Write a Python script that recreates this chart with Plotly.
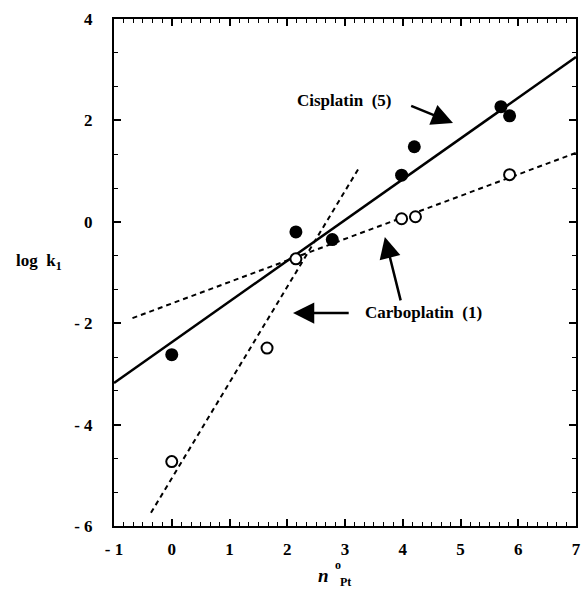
import plotly.graph_objects as go

# Data
cis_x = [0.0, 2.15, 2.78, 3.98, 4.2, 5.7, 5.85]
cis_y = [-2.62, -0.2, -0.35, 0.92, 1.48, 2.27, 2.09]
carbo_x = [0.0, 1.65, 2.15, 3.98, 4.22, 5.85]
carbo_y = [-4.73, -2.49, -0.73, 0.06, 0.1, 0.93]

# fitted lines (endpoints)
cis_fit_x = [-1.0, 7.0]
cis_fit_y = [-3.18, 3.25]
carbo_fit_x = [-0.68, 7.0]
carbo_fit_y = [-1.9, 1.36]
steep_fit_x = [-0.36, 3.24]
steep_fit_y = [-5.74, 1.06]

xticks = [-1, 0, 1, 2, 3, 4, 5, 6, 7]
yticks = [4, 2, 0, -2, -4, -6]
ytick_text = ["4", "2", "0", "- 2", "- 4", "- 6"]
xtick_text = ["- 1", "0", "1", "2", "3", "4", "5", "6", "7"]

FONT = "Liberation Serif"

fig = go.Figure()
fig.add_trace(go.Scatter(x=cis_fit_x, y=cis_fit_y, mode="lines",
                         line=dict(color="black", width=2.5), showlegend=False))
fig.add_trace(go.Scatter(x=carbo_fit_x, y=carbo_fit_y, mode="lines",
                         line=dict(color="black", width=2, dash="5px,4px"), showlegend=False))
fig.add_trace(go.Scatter(x=steep_fit_x, y=steep_fit_y, mode="lines",
                         line=dict(color="black", width=2, dash="5px,4px"), showlegend=False))
fig.add_trace(go.Scatter(x=cis_x, y=cis_y, mode="markers",
                         marker=dict(color="black", size=13, line=dict(width=0)), showlegend=False))
fig.add_trace(go.Scatter(x=carbo_x, y=carbo_y, mode="markers",
                         marker=dict(color="white", size=11, line=dict(color="black", width=2)),
                         showlegend=False))

axis_common = dict(showgrid=False, zeroline=False, showline=True, linecolor="black",
                   linewidth=2, mirror="allticks", ticks="inside", ticklen=7,
                   tickwidth=1.5, tickcolor="black",
                   tickfont=dict(family=FONT, size=17, color="black"))

fig.update_xaxes(range=[-1, 7], tickvals=xticks,
                 ticktext=[f"<b>{t}</b>" for t in xtick_text],
                 ticklabelstandoff=7,
                 minor=dict(dtick=1/6, tick0=-1, ticks="inside", ticklen=4,
                            tickwidth=1.2, tickcolor="black"),
                 **axis_common)
fig.update_yaxes(range=[-6, 4], tickvals=yticks,
                 ticktext=[f"<b>{t}</b>" for t in ytick_text],
                 ticklabelstandoff=16,
                 minor=dict(dtick=2/3, tick0=-6, ticks="inside", ticklen=4,
                            tickwidth=1.2, tickcolor="black"),
                 **axis_common)

W, H = 586, 593
pl, pr, pt, pb = 114, 5, 19, 67
pw, ph = W - pl - pr, H - pt - pb
def paper(px, py):
    return (px - pl) / pw, 1 - (py - pt) / ph

ann_font = dict(family=FONT, size=17, color="black")
arrow_style = dict(text="", showarrow=True, arrowhead=2, arrowsize=1.7,
                   arrowwidth=2.5, arrowcolor="black",
                   xref="x", yref="y", axref="x", ayref="y")
fig.add_annotation(x=2.99, y=2.40, xref="x", yref="y", text="<b>Cisplatin  (5)</b>",
                   showarrow=False, font=ann_font)
fig.add_annotation(x=4.87, y=1.95, ax=4.12, ay=2.30, **arrow_style)
fig.add_annotation(x=4.36, y=-1.78, xref="x", yref="y", text="<b>Carboplatin  (1)</b>",
                   showarrow=False, font=ann_font)
fig.add_annotation(x=2.10, y=-1.80, ax=3.09, ay=-1.80, **arrow_style)
fig.add_annotation(x=3.69, y=-0.30, ax=3.97, ay=-1.58, **arrow_style)

# axis titles
lx, ly = paper(38, 262)
fig.add_annotation(x=lx, y=ly, xref="paper", yref="paper", showarrow=False,
                   text="<b>log  k<sub>1</sub></b>",
                   font=dict(family=FONT, size=17, color="black"),
                   xanchor="center", yanchor="middle")
nx, ny = paper(326, 575)
fig.add_annotation(x=nx, y=ny, xref="paper", yref="paper", showarrow=False,
                   text="<b><i>n</i></b>", font=dict(family=FONT, size=19, color="black"),
                   xanchor="center", yanchor="middle")
ox, oy = paper(340, 565)
fig.add_annotation(x=ox, y=oy, xref="paper", yref="paper", showarrow=False,
                   text="<b>o</b>", font=dict(family=FONT, size=12, color="black"),
                   xanchor="center", yanchor="middle")
px_, py_ = paper(348, 582)
fig.add_annotation(x=px_, y=py_, xref="paper", yref="paper", showarrow=False,
                   text="<b>Pt</b>", font=dict(family=FONT, size=12, color="black"),
                   xanchor="center", yanchor="middle")

fig.update_layout(
    width=W, height=H,
    margin=dict(l=pl, r=pr, t=pt, b=pb),
    paper_bgcolor="white", plot_bgcolor="white",
)

fig.write_html("out.html")
